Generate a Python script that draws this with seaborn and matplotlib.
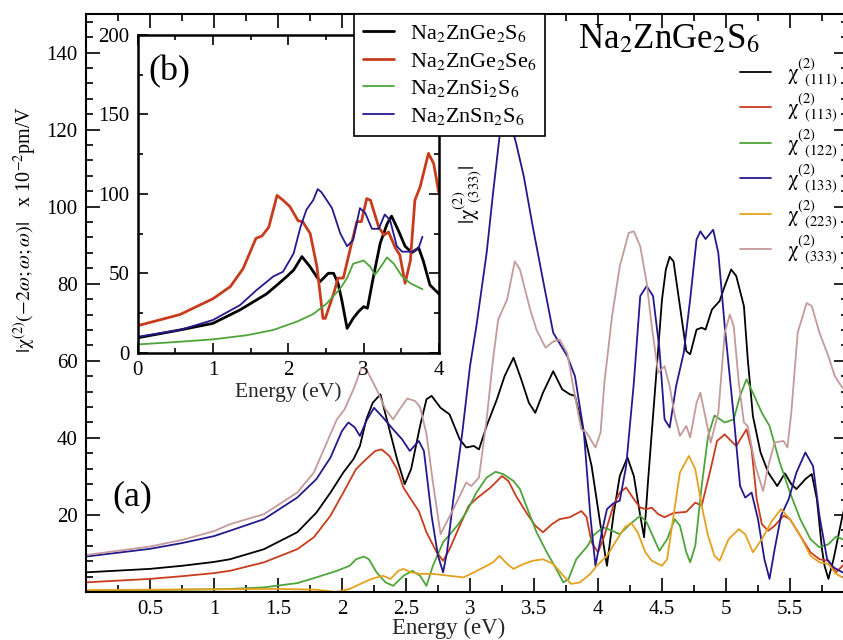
import numpy as np
import matplotlib
matplotlib.use("Agg")
import matplotlib.pyplot as plt
import seaborn as sns
from matplotlib.ticker import FixedLocator, MultipleLocator, FormatStrFormatter
from matplotlib.lines import Line2D

# ---- main panel (a): tensor components of Na2ZnGe2S6 ----
e111 = [0, 0.5, 0.75, 1.0, 1.125, 1.39, 1.65, 1.80, 1.91, 2.01,
        2.09, 2.14, 2.19, 2.24, 2.30, 2.35, 2.43, 2.49, 2.54, 2.61,
        2.66, 2.70, 2.77, 2.84, 2.92, 2.97, 3.03, 3.07, 3.13, 3.21,
        3.27, 3.34, 3.40, 3.46, 3.51, 3.57, 3.65, 3.72, 3.78, 3.82,
        3.89, 3.95, 4.02, 4.07, 4.12, 4.17, 4.23, 4.28, 4.33, 4.36,
        4.39, 4.45, 4.50, 4.53, 4.56, 4.59, 4.64, 4.69, 4.72, 4.77,
        4.81, 4.84, 4.89, 4.95, 4.99, 5.04, 5.08, 5.14, 5.17, 5.21,
        5.27, 5.33, 5.40, 5.46, 5.51, 5.55, 5.62, 5.67, 5.71, 5.75,
        5.77, 5.80, 5.84, 5.91, 5.96]
chi111 = [5.1, 6.0, 6.8, 7.8, 8.5, 11.1, 15.5, 20.6, 25.8, 31.0,
          34.5, 37.9, 44.8, 49.1, 51.3, 44.8, 34.5, 28.0, 31.9, 43.1,
          50.0, 50.9, 47.8, 46.1, 39.6, 37.5, 37.9, 37.0, 43.1, 50.0,
          56.0, 60.8, 55.2, 49.1, 46.5, 51.7, 57.3, 52.6, 51.3, 50.9,
          41.4, 32.7, 17.2, 6.8, 19.8, 30.1, 34.9, 30.1, 19.8, 14.2,
          28.4, 54.3, 75.9, 83.7, 87.0, 85.8, 74.2, 62.5, 61.7, 68.1,
          68.6, 68.1, 73.3, 75.5, 79.4, 83.7, 82.0, 74.2, 60.4, 45.7,
          36.2, 31.0, 27.5, 30.8, 28.0, 26.7, 29.3, 30.6, 24.1, 11.1,
          6.8, 3.4, 8.5, 19.8, 26.0]

e113 = [0, 0.5, 0.75, 1.0, 1.125, 1.39, 1.65, 1.78, 1.91, 2.01,
        2.11, 2.19, 2.26, 2.31, 2.37, 2.43, 2.48, 2.53, 2.60, 2.66,
        2.74, 2.79, 2.84, 2.92, 2.99, 3.06, 3.16, 3.25, 3.30, 3.36,
        3.44, 3.51, 3.57, 3.64, 3.70, 3.78, 3.87, 3.91, 3.95, 4.00,
        4.05, 4.12, 4.17, 4.22, 4.28, 4.33, 4.38, 4.42, 4.47, 4.52,
        4.59, 4.69, 4.76, 4.81, 4.88, 4.93, 4.99, 5.04, 5.08, 5.16,
        5.20, 5.24, 5.28, 5.33, 5.38, 5.45, 5.50, 5.58, 5.66, 5.73,
        5.80, 5.86, 5.91, 5.96]
chi113 = [2.5, 3.4, 4.1, 4.9, 5.5, 7.7, 11.1, 14.2, 19.8, 25.8,
          31.9, 34.5, 36.6, 37.0, 35.3, 31.9, 27.1, 24.5, 21.0, 15.5,
          10.3, 8.1, 11.1, 17.2, 22.4, 24.5, 27.1, 30.1, 28.8, 24.9,
          20.6, 17.2, 15.5, 17.6, 18.9, 19.4, 21.0, 19.5, 12.9, 10.3,
          14.6, 22.4, 25.8, 27.1, 24.1, 21.9, 21.5, 21.9, 20.2, 19.4,
          20.5, 20.8, 23.2, 22.4, 31.9, 39.2, 40.9, 39.2, 37.9, 42.2,
          37.0, 24.1, 17.6, 15.9, 17.2, 19.8, 18.9, 14.6, 10.3, 8.5,
          8.1, 5.1, 6.8, 8.0]

e122 = [0, 0.5, 1.0, 1.125, 1.39, 1.65, 1.80, 1.96, 2.06, 2.11,
        2.17, 2.21, 2.27, 2.34, 2.40, 2.48, 2.55, 2.61, 2.66, 2.71,
        2.79, 2.90, 2.97, 3.05, 3.13, 3.20, 3.26, 3.34, 3.39, 3.46,
        3.52, 3.60, 3.66, 3.73, 3.77, 3.83, 3.92, 3.96, 4.04, 4.11,
        4.17, 4.25, 4.33, 4.38, 4.45, 4.48, 4.54, 4.60, 4.64, 4.69,
        4.72, 4.76, 4.81, 4.86, 4.91, 4.99, 5.06, 5.11, 5.16, 5.21,
        5.28, 5.34, 5.42, 5.50, 5.58, 5.66, 5.73, 5.80, 5.86, 5.91,
        5.96]
chi122 = [0.3, 0.5, 0.7, 0.8, 1.2, 2.3, 3.8, 5.5, 6.8, 8.5,
          9.2, 8.5, 5.1, 2.5, 1.6, 4.2, 5.5, 4.2, 1.6, 6.8,
          12.9, 17.2, 20.6, 25.8, 29.7, 31.2, 30.6, 28.8, 26.7, 20.6,
          15.5, 10.3, 6.8, 2.5, 3.4, 8.5, 12.0, 14.6, 16.8, 15.9,
          15.0, 17.6, 19.8, 18.1, 12.9, 10.7, 13.7, 18.9, 17.2, 10.3,
          7.7, 12.0, 27.5, 40.5, 45.8, 44.0, 44.8, 50.9, 55.2, 51.7,
          46.5, 43.1, 33.6, 25.8, 18.9, 13.7, 11.6, 12.4, 14.4, 13.7,
          13.5]

e133 = [0, 0.5, 0.75, 1.0, 1.125, 1.39, 1.65, 1.80, 1.91, 2.00,
        2.05, 2.10, 2.14, 2.19, 2.25, 2.32, 2.40, 2.47, 2.53, 2.60,
        2.64, 2.70, 2.75, 2.79, 2.82, 2.87, 2.94, 3.00, 3.05, 3.13,
        3.18, 3.23, 3.29, 3.36, 3.42, 3.49, 3.57, 3.65, 3.76, 3.82,
        3.89, 3.94, 3.98, 4.03, 4.07, 4.12, 4.17, 4.22, 4.28, 4.33,
        4.38, 4.43, 4.48, 4.52, 4.56, 4.61, 4.67, 4.72, 4.77, 4.80,
        4.84, 4.90, 4.94, 4.99, 5.06, 5.11, 5.15, 5.20, 5.25, 5.30,
        5.34, 5.38, 5.43, 5.49, 5.55, 5.62, 5.68, 5.73, 5.79, 5.84,
        5.91, 5.96]
chi133 = [9.2, 11.2, 12.7, 14.5, 15.9, 18.9, 24.5, 29.3, 34.9, 41.8,
          44.0, 42.7, 40.5, 44.4, 47.8, 45.3, 42.2, 39.6, 36.6, 39.2,
          36.6, 19.8, 9.4, 5.1, 10.3, 24.1, 41.4, 58.6, 69.0, 88.0,
          103.5, 118.0, 125.0, 116.5, 107.9, 94.9, 81.0, 67.3, 61.2, 56.0,
          41.4, 19.8, 6.8, 15.5, 21.5, 23.0, 23.7, 32.7, 54.3, 76.8,
          79.4, 76.8, 63.0, 44.8, 42.7, 53.4, 62.1, 75.9, 91.5, 93.6,
          91.6, 94.0, 88.0, 69.0, 45.7, 27.5, 24.5, 25.8, 18.9, 8.5,
          3.4, 11.1, 19.8, 24.1, 31.0, 36.2, 32.7, 19.8, 8.5, 6.4,
          5.1, 5.0]

e223 = [0, 0.5, 1.0, 1.5, 1.8, 1.95, 2.06, 2.17, 2.24, 2.32,
        2.38, 2.44, 2.48, 2.54, 2.61, 2.71, 2.84, 2.95, 3.03, 3.13,
        3.18, 3.23, 3.29, 3.34, 3.42, 3.49, 3.57, 3.65, 3.73, 3.79,
        3.86, 3.94, 3.99, 4.07, 4.15, 4.21, 4.26, 4.31, 4.37, 4.42,
        4.50, 4.54, 4.59, 4.64, 4.71, 4.76, 4.81, 4.86, 4.91, 4.95,
        5.02, 5.10, 5.15, 5.21, 5.28, 5.36, 5.43, 5.50, 5.58, 5.66,
        5.73, 5.80, 5.86, 5.91, 5.96]
chi223 = [0.5, 0.6, 0.7, 0.8, 0.6, 0.0, 0.8, 2.5, 3.5, 4.2,
          3.4, 5.5, 6.0, 5.1, 4.7, 4.7, 4.2, 3.8, 5.1, 6.8,
          7.7, 9.4, 7.3, 6.0, 7.3, 8.1, 8.5, 7.3, 4.2, 2.1,
          2.5, 4.7, 6.8, 9.4, 13.7, 16.8, 17.9, 15.5, 10.3, 8.1,
          6.8, 8.5, 19.8, 31.0, 35.3, 31.9, 22.4, 14.6, 9.4, 8.1,
          13.7, 16.3, 15.0, 10.3, 13.7, 18.5, 21.5, 18.9, 14.6, 9.4,
          7.7, 7.3, 4.7, 3.8, 3.5]

e333 = [0, 0.5, 0.75, 1.0, 1.125, 1.39, 1.65, 1.78, 1.91, 1.96,
        2.02, 2.10, 2.15, 2.19, 2.27, 2.34, 2.40, 2.45, 2.51, 2.57,
        2.61, 2.66, 2.71, 2.77, 2.80, 2.87, 2.97, 3.01, 3.07, 3.13,
        3.18, 3.22, 3.29, 3.35, 3.39, 3.47, 3.52, 3.59, 3.65, 3.70,
        3.76, 3.81, 3.87, 3.91, 3.98, 4.02, 4.05, 4.11, 4.17, 4.24,
        4.28, 4.33, 4.38, 4.42, 4.47, 4.52, 4.56, 4.60, 4.64, 4.69,
        4.72, 4.77, 4.80, 4.88, 4.94, 4.99, 5.03, 5.06, 5.10, 5.14,
        5.17, 5.23, 5.29, 5.33, 5.38, 5.45, 5.48, 5.51, 5.56, 5.63,
        5.67, 5.73, 5.80, 5.85, 5.91, 5.96]
chi333 = [9.6, 11.8, 13.5, 15.8, 17.6, 20.2, 25.8, 31.0, 41.0, 44.8,
          47.4, 53.4, 58.2, 57.8, 52.6, 47.4, 44.8, 47.4, 50.2, 49.6,
          48.0, 41.0, 28.5, 15.0, 17.0, 21.5, 28.4, 27.5, 29.7, 44.8,
          60.4, 70.7, 75.9, 85.8, 83.7, 73.3, 68.0, 63.4, 65.0, 65.5,
          62.0, 52.6, 42.2, 41.4, 37.5, 41.4, 54.4, 71.6, 84.5, 93.2,
          93.6, 89.7, 80.3, 69.0, 56.9, 58.6, 53.4, 45.7, 40.5, 43.1,
          40.1, 49.1, 51.7, 38.8, 46.5, 67.3, 72.0, 69.0, 54.3, 44.0,
          43.0, 32.7, 26.2, 32.7, 38.8, 39.2, 37.5, 46.5, 67.3, 75.0,
          74.2, 67.3, 61.2, 56.0, 53.0, 52.0]

comp_labels = ["(111)", "(113)", "(122)", "(133)", "(223)", "(333)"]

# ---- inset (b): |chi333| of four compounds ----
eb_ge_s = [0, 0.56, 1.0, 1.36, 1.71, 1.85, 1.98, 2.07, 2.18, 2.29,
           2.42, 2.53, 2.60, 2.66, 2.71, 2.78, 2.86, 2.93, 3.0, 3.05,
           3.13, 3.22, 3.31, 3.37, 3.46, 3.55, 3.64, 3.73, 3.79, 3.88, 4.0]
b_ge_s = [9.4, 14.3, 18.5, 27, 37, 42.6, 48, 52, 60.5, 54,
          44.7, 50, 50, 43.7, 33, 15.3, 21.6, 25.8, 29, 28,
          48, 69, 81, 86, 77, 67, 63, 66, 58, 42.6, 37]

eb_ge_se = [0, 0.56, 1.0, 1.23, 1.40, 1.57, 1.65, 1.74, 1.85, 1.93,
            2.02, 2.13, 2.19, 2.29, 2.38, 2.46, 2.49, 2.60, 2.66, 2.73,
            2.82, 2.91, 2.97, 3.04, 3.09, 3.20, 3.27, 3.33, 3.42, 3.48,
            3.55, 3.62, 3.68, 3.75, 3.86, 3.93, 4.0]
b_ge_se = [17, 24, 34, 41.6, 53, 72, 73.5, 79, 99, 96,
           92, 83, 82.5, 75, 54, 21.6, 21.6, 37, 47, 47,
           65, 82.5, 82.5, 97, 96, 79, 74, 76, 66, 61.5,
           43.7, 58, 96, 104.5, 125.5, 119, 100]

eb_si_s = [0, 0.56, 1.0, 1.45, 1.80, 2.11, 2.33, 2.51, 2.69, 2.78,
           2.86, 3.0, 3.09, 3.15, 3.24, 3.31, 3.40, 3.51, 3.62, 3.78]
b_si_s = [5.2, 6.9, 8.4, 11, 14.3, 19.5, 24.3, 31, 40.5, 47,
          56, 58, 54, 49, 55, 60, 56, 48, 43.7, 40]

eb_sn_s = [0, 0.56, 1.0, 1.36, 1.58, 1.80, 1.93, 2.07, 2.16, 2.24,
           2.33, 2.39, 2.44, 2.58, 2.69, 2.78, 2.86, 2.95, 3.02, 3.11,
           3.20, 3.28, 3.35, 3.44, 3.51, 3.66, 3.73, 3.78]
b_sn_s = [10, 14.3, 20.6, 30, 39.5, 48, 51, 62.5, 79, 90,
          96, 103, 101, 91, 75, 67, 71, 91, 88, 78,
          78, 87, 83.5, 67, 63.6, 63.6, 66, 73]

compounds = [r"Na$_2$ZnGe$_2$S$_6$", r"Na$_2$ZnGe$_2$Se$_6$",
             r"Na$_2$ZnSi$_2$S$_6$", r"Na$_2$ZnSn$_2$S$_6$"]

C_BLACK, C_RED, C_GREEN = "#000000", "#c83c1e", "#4ea43a"
C_BLUE, C_ORANGE, C_ROSE = "#24198c", "#e6a020", "#c49a9a"

sns.set_theme(style="ticks")
plt.rcParams["font.family"] = ["Liberation Serif", "DejaVu Serif"]
plt.rcParams["mathtext.fontset"] = "stix"
plt.rcParams["axes.edgecolor"] = "black"
plt.rcParams["xtick.color"] = "black"
plt.rcParams["ytick.color"] = "black"
plt.rcParams["text.color"] = "black"

W, H = 843, 640
fig = plt.figure(figsize=(W / 100, H / 100), dpi=100)

# main axes
ax = fig.add_axes([86 / W, 48 / H, 762 / W, 578 / H])
main = [(e111, chi111, C_BLACK), (e113, chi113, C_RED), (e122, chi122, C_GREEN),
        (e133, chi133, C_BLUE), (e223, chi223, C_ORANGE), (e333, chi333, C_ROSE)]
for ex, vy, col in main:
    sns.lineplot(x=np.array(ex), y=np.array(vy), ax=ax, color=col, linewidth=1.3,
                 estimator=None, sort=False)
ax.set_xlim(0, 762 / 128)
ax.set_ylim(0, 150)
ax.xaxis.set_major_locator(FixedLocator([0.5, 1, 1.5, 2, 2.5, 3, 3.5, 4, 4.5, 5, 5.5]))
ax.xaxis.set_major_formatter(FormatStrFormatter("%g"))
ax.xaxis.set_minor_locator(MultipleLocator(0.25))
ax.yaxis.set_major_locator(FixedLocator([20, 40, 60, 80, 100, 120, 140]))
ax.yaxis.set_minor_locator(MultipleLocator(4))
ax.tick_params(which="both", direction="in", top=True, right=True,
               labelsize=15, width=1.2, pad=6)
ax.tick_params(which="major", length=10)
ax.tick_params(which="minor", length=5)
for s in ax.spines.values():
    s.set_linewidth(1.5)
ax.set_xlabel("Energy (eV)", fontsize=16.5)
ax.xaxis.set_label_coords((449 - 86) / 762, -26 / 578)
ax.set_ylabel("")

chi_handles = [Line2D([], [], color=c, lw=1.3) for _, _, c in main]
chi_texts = [r"$\mathrm{\chi}^{(2)}_{\ \ %s}$" % lab for lab in comp_labels]
leg_main = ax.legend(chi_handles, chi_texts, loc="upper left",
                     bbox_to_anchor=(740 / W, 1 - 56 / H), bbox_transform=fig.transFigure,
                     frameon=False, fontsize=15, handlelength=1.5, handletextpad=0.75,
                     labelspacing=0.12, borderpad=0, borderaxespad=0)

# inset axes
axi = fig.add_axes([137.7 / W, 1 - 352.7 / H, 301.3 / W, 317.7 / H])
axi.set_facecolor("white")
inset = [(eb_ge_s, b_ge_s, C_BLACK, 2.0), (eb_ge_se, b_ge_se, C_RED, 2.0),
         (eb_si_s, b_si_s, C_GREEN, 1.3), (eb_sn_s, b_sn_s, C_BLUE, 1.3)]
for ex, vy, col, lw in inset:
    sns.lineplot(x=np.array(ex), y=np.array(vy), ax=axi, color=col, linewidth=lw,
                 estimator=None, sort=False)
axi.set_xlim(0, 4)
axi.set_ylim(0, 200)
axi.xaxis.set_major_locator(MultipleLocator(1))
axi.xaxis.set_minor_locator(MultipleLocator(0.5))
axi.yaxis.set_major_locator(MultipleLocator(50))
axi.yaxis.set_minor_locator(MultipleLocator(25))
axi.tick_params(which="both", direction="in", top=True, right=True,
                labelsize=15, width=1.2, pad=6)
axi.tick_params(which="major", length=7)
axi.tick_params(which="minor", length=3.5)
for s in axi.spines.values():
    s.set_linewidth(1.8)
axi.set_xlabel("Energy (eV)", fontsize=15.5)
axi.xaxis.set_label_coords(0.5, -30 / 317.7)
axi.set_ylabel("")

in_handles = [Line2D([], [], color=c, lw=lw) for _, _, c, lw in inset]
leg_in = axi.legend(in_handles, compounds, loc="upper left",
                    bbox_to_anchor=(354 / W, 1 - 14 / H), bbox_transform=fig.transFigure,
                    frameon=True, fancybox=False, framealpha=1, edgecolor="black",
                    fontsize=16, handlelength=1.4, handletextpad=0.7,
                    labelspacing=0.3, borderpad=0.4, borderaxespad=0)
leg_in.get_frame().set_linewidth(1.2)

# texts
fig.text(578 / W, 1 - 48 / H, r"Na$_2$ZnGe$_2$S$_6$", fontsize=25, ha="left", va="baseline")
fig.text(132 / W, 1 - 497 / H, "(a)", fontsize=26, ha="center", va="center")
fig.text(169 / W, 1 - 72 / H, "(b)", fontsize=26, ha="center", va="center")
fig.text(468 / W, 1 - 194 / H, r"$|\mathrm{\chi}^{(2)}_{\ \ (333)}|$", fontsize=15,
         rotation=90, ha="center", va="center")
fig.text(25 / W, 1 - 229 / H,
         r"$|\mathrm{\chi}^{(2)}(-2\omega;\omega;\omega)|$   x 10$^{-2}$pm/V",
         fontsize=14.5, rotation=90, ha="center", va="center")

fig.savefig("out.png", dpi=100)
